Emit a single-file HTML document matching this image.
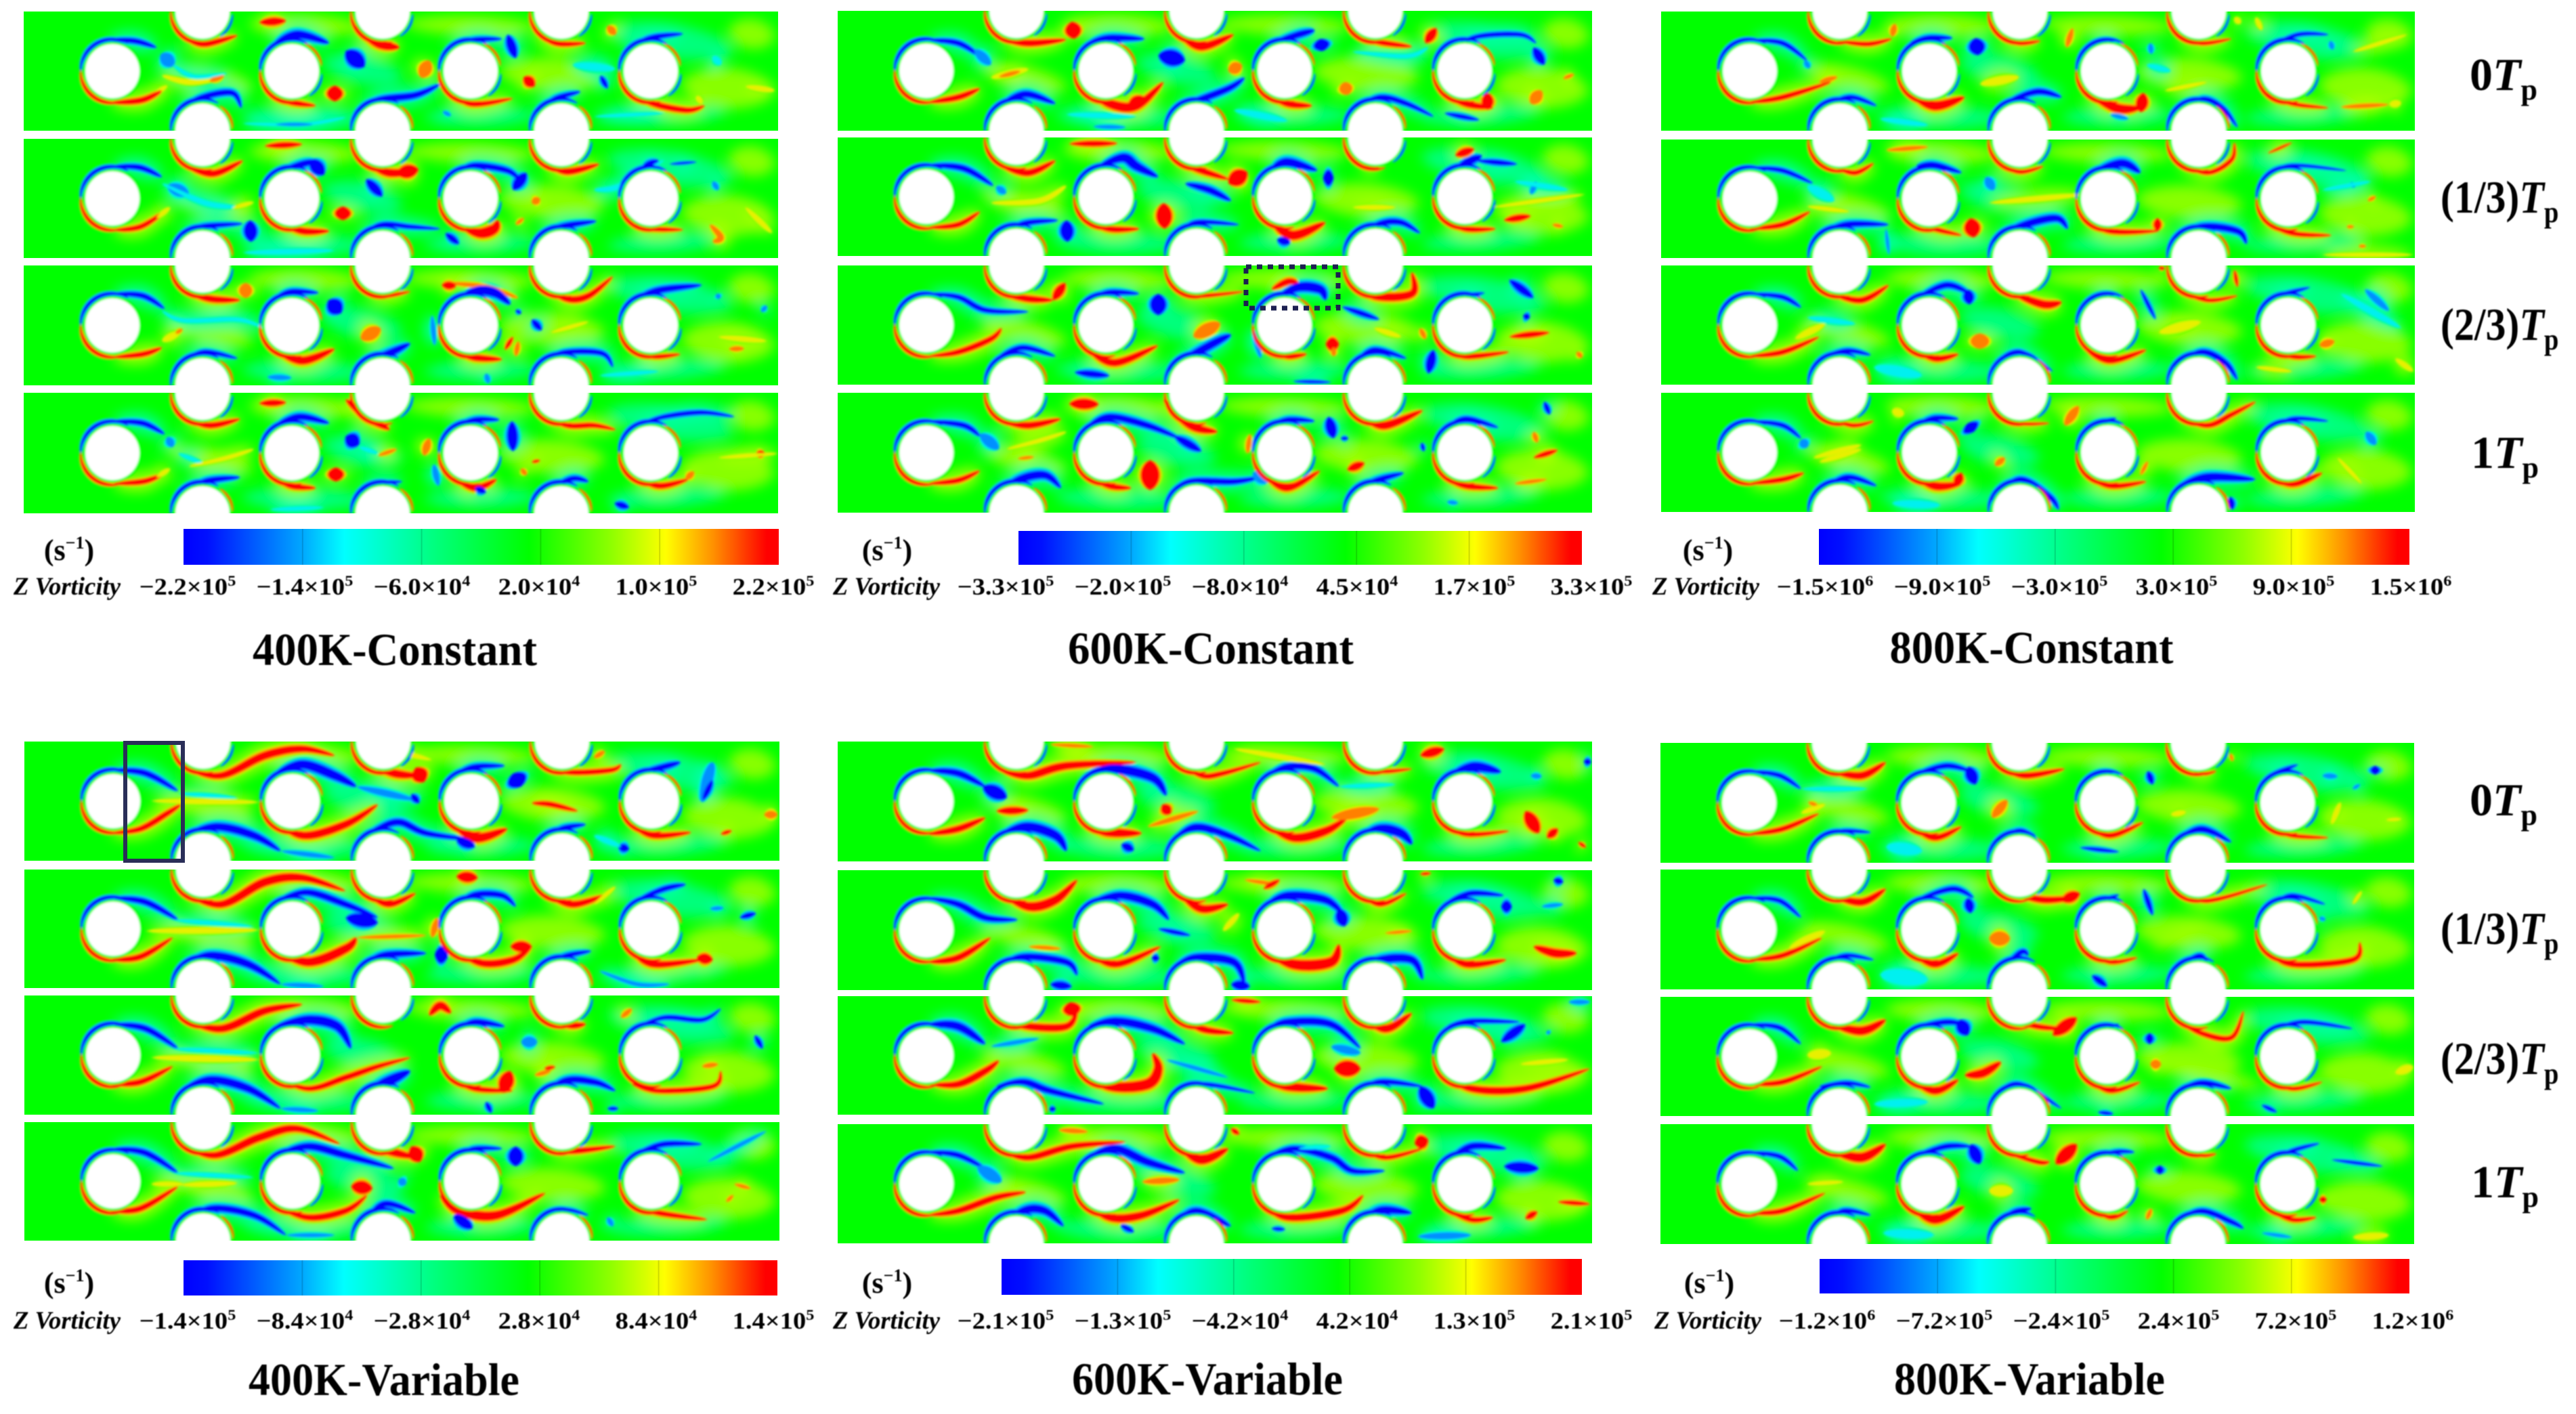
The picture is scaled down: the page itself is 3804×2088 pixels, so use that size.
<!DOCTYPE html>
<html lang="en"><head><meta charset="utf-8"><title>Z vorticity contours, constant vs variable properties</title>
<style>
html,body{margin:0;padding:0;background:#fff;}
#figure{display:block;width:3804px;height:2088px;background:#fff;}
text{font-family:"Liberation Serif",serif;fill:#000;font-weight:bold;}
</style></head>
<body>
<svg id="figure" xmlns="http://www.w3.org/2000/svg" width="3804" height="2088" viewBox="0 0 3804 2088">
<defs>
<filter id="soft" x="-5%" y="-10%" width="110%" height="120%"><feGaussianBlur stdDeviation="1.7"/></filter>
<filter id="softWide" x="-5%" y="-20%" width="110%" height="140%"><feGaussianBlur stdDeviation="9"/></filter>
<filter id="softText" x="-5%" y="-10%" width="110%" height="120%"><feGaussianBlur stdDeviation="0.8"/></filter>
<linearGradient id="jet" x1="0" x2="1" y1="0" y2="0">
<stop offset="0" stop-color="#0000ff"/><stop offset="0.04" stop-color="#0010ff"/><stop offset="0.2" stop-color="#00a8ff"/><stop offset="0.27" stop-color="#00ffff"/><stop offset="0.4" stop-color="#00ff90"/><stop offset="0.58" stop-color="#00ff00"/><stop offset="0.72" stop-color="#90ff00"/><stop offset="0.81" stop-color="#ffff00"/><stop offset="0.89" stop-color="#ff9000"/><stop offset="0.98" stop-color="#ff0000"/><stop offset="1" stop-color="#ff0000"/>
</linearGradient>
</defs>
<g id="panels"></g>
<g id="bars"></g>
<g filter="url(#softText)">
<g font-size="68" text-anchor="middle">
<text x="583" y="982" textLength="420" lengthAdjust="spacingAndGlyphs">400K-Constant</text>
<text x="1788" y="980" textLength="422" lengthAdjust="spacingAndGlyphs">600K-Constant</text>
<text x="3000" y="979" textLength="419" lengthAdjust="spacingAndGlyphs">800K-Constant</text>
<text x="567" y="2060" textLength="400" lengthAdjust="spacingAndGlyphs">400K-Variable</text>
<text x="1783" y="2059" textLength="400" lengthAdjust="spacingAndGlyphs">600K-Variable</text>
<text x="2997" y="2059" textLength="400" lengthAdjust="spacingAndGlyphs">800K-Variable</text>
</g>
<g font-size="68">
<text x="3647" y="133">0<tspan font-style="italic">T</tspan><tspan font-size="44" dy="14">p</tspan></text>
<text transform="translate(3604 314) scale(.88 1)">(1/3)<tspan font-style="italic">T</tspan><tspan font-size="44" dy="14">p</tspan></text>
<text transform="translate(3604 502) scale(.88 1)">(2/3)<tspan font-style="italic">T</tspan><tspan font-size="44" dy="14">p</tspan></text>
<text x="3649" y="691">1<tspan font-style="italic">T</tspan><tspan font-size="44" dy="14">p</tspan></text>
<text x="3647" y="1204">0<tspan font-style="italic">T</tspan><tspan font-size="44" dy="14">p</tspan></text>
<text transform="translate(3604 1394) scale(.88 1)">(1/3)<tspan font-style="italic">T</tspan><tspan font-size="44" dy="14">p</tspan></text>
<text transform="translate(3604 1586) scale(.88 1)">(2/3)<tspan font-style="italic">T</tspan><tspan font-size="44" dy="14">p</tspan></text>
<text x="3649" y="1768">1<tspan font-style="italic">T</tspan><tspan font-size="44" dy="14">p</tspan></text>
</g>
<g id="barText"></g>
</g>
<rect x="185" y="1097" width="85" height="174" fill="none" stroke="#2a2e58" stroke-width="6"/>
<rect x="1840" y="394" width="136" height="61" fill="none" stroke="#1c2050" stroke-width="7" stroke-dasharray="8 8"/>
</svg>
<script>
/* Colour-bar tick labels, one array per case */
const ticks400c=['−2.2×10^5','−1.4×10^5','−6.0×10^4','2.0×10^4','1.0×10^5','2.2×10^5'];
const ticks600c=['−3.3×10^5','−2.0×10^5','−8.0×10^4','4.5×10^4','1.7×10^5','3.3×10^5'];
const ticks800c=['−1.5×10^6','−9.0×10^5','−3.0×10^5','3.0×10^5','9.0×10^5','1.5×10^6'];
const ticks400v=['−1.4×10^5','−8.4×10^4','−2.8×10^4','2.8×10^4','8.4×10^4','1.4×10^5'];
const ticks600v=['−2.1×10^5','−1.3×10^5','−4.2×10^4','4.2×10^4','1.3×10^5','2.1×10^5'];
const ticks800v=['−1.2×10^6','−7.2×10^5','−2.4×10^5','2.4×10^5','7.2×10^5','1.2×10^6'];

/* Vorticity structures: [ink, width, x,y, x,y, ...] in each case's flow axis units */
const c400t0=[['y',8,300,175,350,190,410,182],['o',9,388,188,415,175],['y',7,282,222,310,198],['b',8,200,92,250,95,290,110],['a',20,298,125,322,152],['c',6,320,150,360,178,420,170],['r',9,205,238,262,232,300,210],['r',9,345,90,380,102,440,82],['r',12,480,52,530,48],['b',9,335,250,375,225,430,215,447,250],['b',12,505,105,550,80,610,100],['b',24,640,118,675,155],['r',24,620,198,620,235],['r',9,500,190,530,232,585,245],['r',14,660,60,700,100,740,110],['o',20,780,180,795,140],['b',10,665,260,700,232,770,220,815,195],['b',8,830,130,870,95,930,90],['b',14,940,80,955,135],['r',8,830,195,870,240,950,228],['r',16,970,178,990,200],['r',8,990,70,1030,100,1085,100],['o',12,1125,60,1140,80],['b',8,995,260,1030,228,1075,212],['b',8,1112,175,1125,205],['b',8,1160,130,1200,90,1265,78],['r',9,1160,190,1200,235,1270,255,1305,245],['c',10,1320,130,1335,150],['c',12,1060,150,1140,160],['c',5,1100,270,1230,262],['c',5,450,286,560,288,640,272],['a',5,510,288,580,288],['a',6,820,258,835,268],['y',8,1380,200,1435,210],['y',8,1290,222,1300,240]];
const c400t1=[['b',8,210,385,260,388,300,410],['a',18,310,430,350,450],['c',8,300,425,380,470,440,480],['r',8,210,533,260,525,305,490],['y',7,290,505,315,480],['y',6,430,482,470,468],['r',10,345,385,395,402,450,372],['r',9,490,338,560,334],['b',8,340,545,375,525,450,518],['b',20,463,510,465,560],['b',10,520,395,560,380,585,372],['b',20,575,370,600,405],['b',14,678,415,708,455],['r',24,635,478,635,510],['r',10,520,515,560,535,610,535],['r',12,680,375,720,400,775,395],['r',20,735,402,775,392],['b',7,665,550,705,520,760,525,815,530],['b',10,825,540,850,565],['b',9,850,395,880,383,940,395,965,420],['b',16,975,400,950,440],['r',16,860,530,890,540,915,530,922,510],['o',12,985,470,1000,460],['o',6,955,520,970,505],['r',10,1010,375,1050,397,1110,380],['b',9,1000,550,1040,525,1105,512],['b',10,1190,385,1220,372],['b',4,1240,380,1290,375],['r',7,1170,520,1210,530,1265,532],['o',10,1315,520,1335,550,1320,560],['a',8,1320,420,1330,440],['c',8,1100,440,1150,430,1230,370],['c',8,450,585,620,580],['y',8,1380,480,1430,540]];
const c400t2=[['b',8,210,680,265,685,305,715],['c',6,300,720,340,742,440,740,490,760],['r',8,210,827,265,820,300,805],['y',10,300,790,335,768],['o',6,325,772,338,762],['r',10,345,675,390,692,445,695],['o',20,455,690,455,655],['b',7,340,835,380,815,440,830],['a',8,495,873,540,875],['b',8,510,690,540,675,590,678],['b',24,608,695,632,725],['r',12,510,810,560,835,620,808],['o',20,668,785,705,760],['b',12,670,850,710,825,760,795],['a',7,800,730,805,800],['r',6,680,670,710,685,760,675],['o',8,830,655,900,665,960,690],['r',12,818,660,845,662],['b',14,860,680,890,672,920,680,945,705],['b',10,985,740,1003,765],['b',6,955,718,965,726],['r',10,850,815,880,828,930,832],['r',7,935,810,950,780],['o',8,955,825,960,790],['y',6,1020,770,1090,745],['r',10,1010,665,1050,692,1090,685,1135,640],['b',8,1010,830,1050,815,1115,818,1135,850],['b',10,1175,695,1220,672,1300,660],['r',7,1175,805,1210,825,1260,820],['o',8,1350,808,1378,807],['y',8,1330,780,1420,790],['a',8,1328,680,1332,692],['a',7,1410,722,1420,708],['c',6,1110,870,1220,860],['a',8,900,865,905,888]];
const c400t3=[['b',8,210,975,265,980,305,1005],['a',12,310,1012,320,1035],['c',6,330,1050,380,1075],['r',8,210,1120,265,1115,300,1100],['y',7,290,1105,315,1085],['y',6,350,1080,420,1060,470,1040],['r',9,345,970,390,985,445,970],['r',10,480,934,530,932],['b',9,340,1150,380,1115,445,1105],['b',10,510,985,555,965,610,980],['b',22,640,1010,665,1030],['c',6,665,1035,700,1050],['r',24,622,1082,622,1115],['r',9,510,1105,540,1125,585,1130],['r',12,640,925,680,965,722,995],['o',6,700,1055,735,1040],['b',6,670,1140,700,1120,745,1115],['o',12,785,1055,795,1015],['a',9,803,1075,812,1125],['b',8,840,990,880,972,925,972],['b',16,948,975,950,1045],['r',10,840,1105,880,1130,920,1110],['b',10,880,1130,900,1140],['r',5,985,1070,1000,1066],['o',8,965,1085,975,1100],['r',8,1005,960,1050,985,1100,985,1140,995],['b',8,1020,1130,1060,1108,1090,1115],['b',7,1180,985,1230,965,1300,955,1360,965],['r',9,1175,1100,1220,1125,1275,1110],['o',10,1270,1110,1285,1092],['r',10,1400,1054,1416,1048],['b',10,1138,1165,1165,1175],['c',6,500,1180,600,1175],['y',6,1330,1060,1440,1050]];

const c600t0=[['b',8,215,92,270,100,310,130],['a',14,300,115,330,150],['y',10,330,180,400,160],['o',7,345,178,385,165],['r',9,215,237,270,225,310,205],['r',10,350,90,400,100,470,92],['r',24,480,50,485,90],['b',10,350,240,395,218,450,240],['c',8,470,265,600,270],['a',6,520,293,580,295],['b',10,510,100,550,88,615,90],['b',24,640,128,690,140],['r',14,510,205,550,240,600,245,650,190],['r',20,585,250,615,225],['r',12,680,80,720,108,780,80],['o',18,770,165,795,150],['b',10,670,265,700,240,770,205,800,180],['b',10,850,100,900,80,930,70],['b',24,940,90,945,118],['r',10,840,215,880,240,925,245],['o',20,985,190,990,220],['r',8,1020,90,1060,100,1110,108],['r',14,1135,100,1155,65],['b',8,1005,250,1050,225,1100,240,1150,270],['b',7,1170,262,1235,278],['b',7,1180,115,1230,85,1310,80,1340,100],['b',14,1335,110,1355,150],['r',10,1170,215,1210,240,1260,250],['r',18,1250,215,1250,255],['o',18,1330,240,1350,210],['o',6,1390,182,1410,172],['c',6,1000,120,1100,130,1140,110],['c',10,780,255,880,280]];
const c600t1=[['b',9,215,382,280,390,335,430],['a',10,340,432,358,448],['y',8,330,470,420,465,470,430],['r',8,215,527,270,520,310,490],['r',10,350,385,400,400,450,372],['r',9,475,333,565,332],['b',8,345,550,390,518,455,510],['b',20,470,510,472,560],['b',14,530,385,575,365,600,385,640,410],['b',10,690,425,735,440,775,465],['r',24,650,470,652,530],['r',9,510,510,550,530,605,530],['r',10,670,360,710,390,770,415],['r',24,770,425,805,398],['b',7,680,545,710,515,790,520],['b',12,850,390,880,375,935,395],['b',24,945,412,965,412],['r',14,850,515,890,545,950,515],['b',12,860,555,885,562],['y',7,1000,480,1080,480],['r',6,1015,375,1050,390],['b',9,1005,550,1050,518,1090,515,1125,540],['b',12,1195,385,1240,360],['b',8,1230,372,1305,380],['r',12,1190,360,1225,345],['r',8,1170,510,1210,530,1265,530],['r',10,1280,510,1330,500],['a',8,1340,420,1330,450],['y',6,1260,480,1430,450],['c',8,1300,420,1400,440],['o',6,1370,520,1390,525]];
const c600t2=[['b',8,215,680,270,688,320,718,400,722],['r',9,215,825,270,815,330,785,350,760],['r',10,350,680,400,692,445,695],['r',14,445,695,468,655],['b',8,345,825,390,805,450,825],['b',10,485,862,550,870],['b',8,510,695,550,677,605,680],['b',24,640,680,640,730],['r',11,510,810,560,840,640,800],['o',20,705,780,755,748],['b',12,660,860,700,825,750,790,775,775],['r',6,680,665,710,685,800,675],['r',10,850,670,880,652,900,655],['b',14,860,690,900,665,940,670,950,695],['b',8,980,710,1050,740],['r',8,850,810,880,825,915,820],['a',8,815,760,830,830],['r',20,950,797,975,797],['o',8,965,805,965,825],['r',12,1010,650,1040,685,1110,680,1110,630],['b',14,1150,810,1140,865],['b',8,1005,840,1040,810,1100,830],['b',6,1180,690,1245,678],['b',12,1290,648,1335,690],['b',10,1316,730,1328,736],['o',8,1125,760,1135,785],['r',8,1175,805,1210,825,1290,815],['r',9,1290,780,1365,770],['o',8,1415,815,1425,828],['b',5,890,883,960,885],['y',8,1040,760,1090,780]];
const c600t3=[['b',8,215,975,280,985,310,1010],['a',16,310,1005,345,1040],['y',6,360,1040,420,1020,470,1000],['r',8,215,1120,270,1112,310,1090],['o',5,380,1062,410,1058],['r',10,350,975,400,985,460,970],['r',16,475,935,530,936],['b',12,340,1150,380,1112,430,1100,460,1130],['b',10,510,985,550,965,620,985,680,1015],['b',12,670,1010,720,1045],['r',28,625,1065,625,1135],['r',9,510,1100,550,1125,590,1130],['r',12,650,925,700,985,750,1000],['b',9,665,1140,700,1115,780,1115,830,1105],['a',18,815,1095,845,1115],['b',8,840,990,880,972,930,975],['b',16,955,965,965,1015],['b',6,978,1015,992,1015],['o',8,805,1050,810,1005],['r',10,840,1105,880,1130,940,1090],['r',12,990,1088,1022,1072],['r',12,1020,965,1060,985,1130,950],['b',9,1000,1150,1040,1115,1095,1095],['b',8,1175,990,1210,970,1270,990],['r',9,1170,1105,1210,1125,1270,1130],['o',6,1300,1120,1360,1110],['r',8,1335,1060,1380,1042],['b',8,1355,930,1365,960],['o',8,1335,1000,1342,1025],['b',6,1128,1025,1132,1045],['a',6,1175,1162,1195,1165]];

const c800t0=[['b',7,210,93,260,100,300,140],['a',8,296,140,304,158],['o',8,320,190,350,178],['r',8,205,237,260,225,340,190],['r',7,350,95,400,102,440,90],['o',10,440,85,445,55],['b',7,325,250,370,225,415,245],['c',8,420,275,500,290],['b',8,470,100,500,88,540,88],['b',24,578,88,582,128],['r',14,470,215,510,245,560,225],['y',12,585,195,650,178],['r',6,620,85,650,100,685,95],['o',9,728,110,738,65],['b',9,630,235,680,212,720,225],['b',6,770,105,810,92],['a',8,866,100,868,125],['r',14,760,210,810,250,850,250],['r',18,850,260,855,215],['a',7,800,265,830,275],['y',6,890,210,960,190],['r',6,910,80,950,100,1000,90],['y',8,1005,40,1015,55],['y',7,1040,40,1050,70],['b',8,910,270,950,230,985,250,1010,295],['b',6,1060,110,1110,80,1160,80],['a',8,1163,95,1167,115],['r',6,1060,215,1100,240,1160,250],['o',7,1180,248,1260,242],['y',10,1260,242,1280,238],['y',6,1200,120,1290,80],['c',8,860,150,900,165]];
const c800t1=[['b',7,210,388,260,395,310,425],['c',14,300,430,345,465],['y',6,300,478,370,490],['r',8,205,530,260,520,305,490],['r',7,350,390,380,400,410,378],['o',7,430,348,500,340],['b',9,320,545,365,520,435,520],['a',5,430,530,435,590],['b',9,480,385,510,382,555,400],['a',14,595,410,608,440],['r',7,470,510,510,530,555,545],['r',24,570,505,575,550],['r',6,610,375,650,398,690,385],['b',11,610,560,650,525,710,505,730,530],['b',12,775,395,820,378,850,400],['r',8,760,505,800,535,880,535],['r',12,878,505,878,535],['b',10,900,555,950,525,1010,535,1025,565],['r',7,910,375,960,400,1000,370,1005,330],['r',4,1060,355,1100,330],['b',5,1060,405,1100,383,1190,395],['r',7,1050,510,1100,540,1165,545],['a',6,1197,422,1203,434],['o',6,1225,465,1238,455],['o',5,1190,525,1202,525],['y',6,1150,590,1300,590],['o',5,1210,570,1222,570],['c',6,1150,440,1230,420],['y',8,600,470,760,450]];
const c800t2=[['b',7,210,680,260,688,290,712],['c',8,300,735,380,750],['y',10,280,785,330,750],['r',8,205,825,260,815,320,780],['r',9,340,680,390,695,435,660],['b',7,320,830,365,812,405,822],['c',16,410,850,490,870],['b',9,480,690,530,660,570,680],['b',16,565,670,568,705],['r',9,470,800,510,830,550,820],['o',28,585,772,585,808],['r',12,640,680,690,705,720,700],['b',7,610,840,650,815,705,860],['b',6,770,695,810,680],['b',6,850,670,875,740],['r',9,760,810,800,835,860,810],['y',14,880,770,950,745],['r',6,910,670,960,695,1010,685],['r',6,880,620,890,622],['r',6,1005,625,1010,665],['b',9,905,850,950,815,990,840,1010,880],['b',6,1060,690,1130,665],['a',10,1220,670,1260,720],['r',7,1055,800,1100,825,1140,825],['o',12,1145,800,1170,790],['y',6,1040,850,1100,860],['y',8,1270,830,1300,860],['c',10,1180,680,1280,760]];
const c800t3=[['b',7,210,975,260,985,290,1015],['a',14,290,1018,300,1036],['y',8,310,1060,390,1030],['r',8,205,1120,260,1110,295,1095],['r',6,330,965,375,985,410,975],['y',12,440,950,460,960],['b',8,320,1140,365,1105,415,1125],['b',8,480,985,510,968,550,970],['b',26,565,980,575,1000],['r',12,470,1090,510,1125,555,1120],['r',14,545,1125,555,1095],['r',5,615,955,650,980,700,980],['o',14,725,985,748,940],['b',9,605,1160,650,1110,700,1150,715,1180],['o',10,610,1078,626,1060],['b',6,770,985,810,968],['r',8,755,1095,800,1125,860,1115],['o',6,850,1100,862,1068],['r',8,910,965,960,985,1000,960,1040,930],['b',12,910,1130,960,1105,1040,1110],['b',10,998,1150,1002,1180],['b',6,1060,1000,1100,970,1160,975],['a',12,1222,1000,1238,1030],['r',10,1055,1095,1100,1120,1150,1095],['y',6,1175,1060,1215,1120],['c',12,440,1165,520,1170],['y',8,320,1070,390,1040]];

const v400t0=[['b',9,210,117,270,125,330,165],['c',6,330,170,440,180],['y',8,280,187,480,190],['r',9,205,260,260,250,310,215,335,195],['r',12,345,115,410,130,490,85,560,70,620,85],['b',12,340,265,400,245,470,265,520,300],['a',7,520,300,620,315],['b',14,510,125,560,105,620,130,660,155],['a',10,660,155,770,185],['b',10,762,172,776,192],['r',12,505,225,560,265,640,240,700,195],['r',12,680,100,730,125,775,130],['r',24,770,112,785,145],['b',10,670,275,700,250,740,235,790,260,880,275],['b',8,845,125,880,110,935,108],['b',30,950,125,965,155],['r',14,835,230,880,270,940,250],['r',8,985,192,1020,195,1070,210],['b',14,845,275,880,290],['b',8,1005,280,1040,250,1085,240],['b',12,1145,290,1165,296],['r',8,1010,100,1050,122,1130,118,1150,105],['o',8,1100,90,1120,75],['b',9,1180,125,1230,110,1260,100],['a',16,1300,190,1310,140,1320,100],['b',9,1302,185,1320,140],['r',9,1170,240,1210,265,1280,258],['r',6,1335,262,1355,254],['o',12,1415,218,1440,218],['c',8,1100,265,1150,290],['y',8,700,65,800,95]];
const v400t1=[['b',9,210,405,270,415,330,455],['y',9,270,480,480,478],['c',6,320,455,470,470],['r',9,205,545,260,538,320,495],['r',13,340,395,410,420,490,370,560,360,640,390],['b',12,340,555,390,535,460,555,520,600],['a',7,520,600,600,605],['b',10,515,410,570,393,640,420,700,450],['b',20,640,450,700,462],['r',14,505,520,570,550,640,520,660,495],['o',6,660,495,790,490],['r',9,680,395,720,420,770,395],['r',16,845,357,885,360],['b',10,670,565,710,535,790,530],['b',26,805,533,830,535],['b',9,845,420,880,398,930,400,955,425],['o',10,800,495,810,450],['r',11,835,515,890,552,950,545,985,515],['r',16,945,515,985,515],['b',8,1000,580,1040,540,1095,525],['r',10,1010,395,1060,420,1120,400],['b',8,1180,410,1230,385,1270,375],['b',8,1370,450,1400,440],['a',6,1315,430,1340,428],['r',10,1170,525,1210,555,1300,545],['r',16,1290,540,1320,545],['a',6,1110,570,1180,600,1240,600],['y',6,1100,420,1140,380]];
const v400t2=[['b',9,210,690,270,700,330,745],['y',9,280,765,480,770],['c',6,320,745,480,755],['r',9,205,825,260,820,320,785],['r',12,340,680,410,700,490,660,560,645],['b',12,340,835,390,815,460,835,520,880],['a',7,520,880,590,885],['b',14,510,695,570,680,625,695,650,745],['r',9,505,805,570,835,640,810,700,785,760,765],['b',16,670,860,710,825,760,795],['r',12,795,670,815,648,835,665],['b',9,845,705,880,685,935,695],['a',16,965,730,995,730],['r',8,835,810,880,835,950,840],['r',22,930,845,945,795],['o',7,990,805,1020,795],['r',6,1008,790,1028,786],['r',10,1000,650,1050,690,1085,690],['b',10,990,885,1040,820,1100,820,1140,840],['o',8,1150,675,1170,655],['b',7,1175,700,1230,675,1300,680,1335,655],['b',8,1398,715,1412,745],['r',8,1170,825,1220,840,1320,830,1335,795],['o',8,1300,785,1330,780],['b',6,1125,880,1145,880],['b',8,900,865,910,890]];
const v400t3=[['b',9,210,970,270,980,330,1025],['y',7,280,1050,340,1050],['c',6,320,1025,470,1035],['r',9,205,1110,260,1105,330,1055],['y',8,335,1052,440,1048],['r',12,340,965,400,985,480,945,550,925,630,960],['b',10,340,1140,390,1105,470,1120,530,1165],['a',6,530,1165,620,1165],['b',11,510,985,570,965,640,985,730,1015],['a',12,738,1040,752,1050],['r',10,505,1095,570,1125,640,1110,680,1075],['r',20,650,1055,690,1060],['r',12,680,950,720,975,770,990],['r',22,762,965,778,1000],['b',9,670,1150,710,1095,770,1115],['b',7,850,985,880,970,930,970],['b',22,955,965,955,1010],['r',14,815,1075,850,1110,920,1120,1010,1070],['b',16,840,1120,875,1150],['r',9,1010,950,1050,975,1140,965],['b',6,1005,1165,1040,1110,1090,1120],['a',8,1125,1125,1135,1145],['b',8,1180,980,1230,960,1300,960],['a',6,1310,1000,1420,930],['r',8,1170,1095,1220,1115,1310,1130],['o',6,1345,1090,1358,1075],['o',6,1360,1050,1390,1060]];

const v600t0=[['b',10,215,118,270,125,320,155],['b',20,315,155,360,180],['r',10,215,262,270,250,320,225],['r',11,340,210,400,208],['r',12,350,120,400,130,470,108,600,100],['b',14,345,265,395,245,450,265,470,300],['b',12,572,285,595,298],['b',14,510,125,560,115,630,135,655,175],['r',14,505,220,540,255,610,260],['r',16,648,195,662,218],['o',8,620,245,715,210],['r',8,680,100,720,130,760,125,830,100],['b',10,670,270,710,245,770,265,830,300],['b',10,840,130,880,110,930,115,975,155],['c',6,975,155,1080,150],['r',13,840,240,890,270,950,255,990,225],['o',16,960,225,1050,205],['b',14,1010,270,1050,250,1090,260,1110,285],['r',6,1010,100,1050,120,1110,115],['r',14,1125,85,1170,70],['b',14,1180,130,1225,110,1275,122],['r',7,1170,235,1210,262,1290,255],['r',20,1320,210,1345,260],['r',12,1360,270,1380,250],['a',8,1330,130,1350,132],['b',10,1428,98,1442,100],['r',6,1418,280,1432,292],['y',8,780,70,950,105],['o',6,440,60,520,65]];
const v600t1=[['b',10,215,405,270,420,320,450,380,455],['r',10,215,550,270,540,330,495],['o',6,400,515,460,520],['r',14,350,395,400,425,450,410,490,365],['b',10,345,560,390,538,470,550,490,580],['b',12,440,600,480,605],['b',12,515,415,570,400,630,420,660,455],['b',7,640,475,700,490],['r',10,505,520,560,555,645,515],['b',10,628,540,642,542],['r',12,680,395,720,430,770,420],['o',6,800,365,860,375],['r',8,835,385,865,365],['b',12,670,560,710,540,780,550,800,600],['b',14,775,600,810,605],['b',12,840,420,880,400,950,410,985,445],['b',18,975,430,985,470],['r',16,835,520,890,555,960,550,975,510],['o',5,1060,485,1110,480],['r',7,1010,390,1050,420,1100,395],['b',12,1005,570,1050,545,1110,545,1130,590],['r',5,1125,352,1145,350],['b',8,1175,415,1220,395,1280,400],['b',18,1275,425,1295,425],['r',10,1170,520,1210,555,1285,545],['r',13,1335,515,1375,530,1415,530],['b',10,1372,365,1390,370],['a',6,1350,425,1390,420],['y',8,760,480,790,440]];
const v600t2=[['b',12,215,690,270,695,320,735],['a',6,330,740,420,722],['r',11,215,825,270,825,320,795,345,772],['r',11,350,680,400,695,470,695,490,660],['r',26,478,640,482,672],['b',10,340,830,390,820,440,840,540,870],['b',8,438,882,450,880],['b',12,510,695,560,683,630,700,690,735],['r',16,505,800,550,830,620,825,640,790,630,755],['a',6,655,770,770,810],['r',10,680,665,720,700,780,710],['r',7,775,635,830,640],['b',6,670,850,720,825,820,845],['b',11,845,700,880,685,960,690,1015,745],['a',12,960,740,1015,755],['r',24,965,790,1015,790],['r',13,835,810,880,830,955,835],['r',12,1010,660,1060,700,1110,665],['b',8,1005,850,1050,820,1130,830],['b',20,1125,830,1150,880],['b',7,1175,695,1220,683,1310,685],['b',14,1275,730,1320,690],['r',11,1170,800,1220,835,1320,835,1440,790],['a',7,1400,640,1440,640],['y',7,1310,780,1400,770],['a',6,1360,705,1365,712]];
const v600t3=[['b',8,215,977,270,985,320,1015],['a',18,305,1010,350,1045],['r',10,215,1120,270,1110,340,1080,395,1068],['r',10,350,975,400,990,480,965,580,955],['o',8,455,928,510,932],['b',12,345,1150,390,1110,430,1110,465,1145],['b',8,570,1142,595,1158],['b',12,510,990,560,970,620,1000,690,1025],['o',10,610,1045,680,1040],['r',12,505,1090,550,1125,610,1120,680,1085],['r',14,680,965,720,995,770,970],['b',12,670,1145,710,1112,775,1145],['r',8,775,925,790,938],['b',10,840,990,890,970,960,990,1000,1020,1060,1020],['c',6,900,970,960,965],['r',11,835,1095,880,1125,980,1110,1020,1075],['r',7,1010,965,1060,990,1130,970],['r',20,1115,960,1140,950],['b',12,1005,1150,1050,1110,1110,1115],['a',10,1120,1168,1220,1165],['b',10,1175,1000,1220,965,1285,970],['b',16,1280,1010,1345,1015],['r',8,1170,1105,1220,1130,1260,1125],['r',10,1320,1128,1342,1112],['r',7,1380,1090,1440,1095],['b',6,850,1150,875,1152]];

const v800t0=[['b',7,208,120,255,130,290,160],['c',6,290,160,400,160],['r',8,205,262,260,250,320,215],['o',6,302,190,318,198],['y',8,290,215,330,195],['r',11,340,120,390,130,430,100],['b',6,330,270,360,255,405,258],['c',18,430,290,490,300],['b',8,480,125,530,108,570,120],['b',18,565,110,578,150],['r',9,470,240,510,270,555,245],['o',14,605,225,630,185],['r',9,620,110,660,130,725,115],['b',8,610,280,650,255,680,275],['b',6,750,292,815,302],['b',6,770,130,810,120],['b',10,862,120,870,150],['r',8,760,240,800,265,855,235],['y',8,900,218,925,212],['r',5,915,100,950,125,975,120],['o',5,998,80,1002,98],['b',9,905,280,950,250,1000,280],['b',6,1060,130,1110,105],['b',14,1237,108,1237,128],['a',8,1150,130,1175,132],['r',6,1060,245,1100,265,1160,270],['y',8,1165,240,1180,190],['y',5,1255,230,1280,228],['a',5,1200,160,1212,150]];
const v800t1=[['b',7,208,405,255,412,290,450],['y',12,270,520,330,480],['r',8,205,545,260,535,325,495],['r',11,340,400,390,415,430,385],['b',6,330,550,365,535,410,545],['a',12,435,580,485,585],['c',24,420,578,500,590],['b',8,480,410,540,385,575,405],['b',14,565,405,570,440],['r',10,470,525,510,555,550,530],['o',22,600,497,635,497],['r',10,640,395,690,410,745,405],['r',16,720,412,750,395],['b',8,600,600,650,530,665,535],['b',10,770,580,795,605],['b',6,770,420,815,398],['b',8,855,385,870,445],['r',6,760,525,800,550,845,540],['l',20,870,520,960,460],['r',6,915,385,960,412,1060,375],['b',6,900,570,945,535,960,550],['b',6,1070,420,1100,400,1155,420],['r',9,1060,525,1100,555,1200,545,1212,505],['y',5,1200,420,1215,390],['a',6,1145,450,1155,455]];
const v800t2=[['b',7,208,690,255,698,290,735],['y',14,300,760,340,755],['r',8,205,825,260,820,325,785],['r',13,340,690,390,705,430,680],['b',6,320,830,365,822,405,832],['c',12,410,870,500,865],['b',8,480,695,530,685,560,690],['b',20,550,680,565,715],['r',11,470,810,510,840,550,815],['r',13,560,805,590,800,620,775],['r',8,620,675,680,695,720,700],['r',18,705,715,745,675],['b',7,610,850,650,825,720,880],['b',6,780,888,805,892],['b',6,770,705,815,690],['b',12,865,710,865,735],['o',14,866,780,884,780],['r',7,760,810,800,840,850,820],['r',8,910,680,950,710,1000,720,1020,660],['b',8,905,845,950,822,1000,835],['b',6,1050,872,1075,888],['b',6,1070,700,1120,685,1200,700],['r',6,1060,810,1100,835,1150,820],['y',12,1270,800,1300,785],['l',24,880,780,1050,830]];
const v800t3=[['b',7,208,978,255,988,285,1020],['y',6,300,1050,360,1045],['r',8,205,1115,260,1110,330,1070],['r',14,340,975,390,990,430,960],['b',7,330,1140,360,1110,405,1120],['c',14,425,1160,510,1165],['b',8,480,985,530,965,570,965],['b',18,570,960,585,1005],['r',13,470,1095,510,1130,560,1100],['y',16,600,1065,640,1065],['r',7,620,975,680,1000,700,1000],['r',20,710,1005,745,960],['b',9,610,1150,640,1115,670,1105],['b',6,770,990,810,977,840,978],['b',12,882,1008,882,1028],['r',6,760,1095,800,1125,830,1110],['o',7,860,1130,868,1105],['r',5,915,965,950,985,975,982],['b',8,905,1135,950,1110,1000,1135,1020,1150],['a',5,1050,1160,1100,1170],['b',6,1065,1000,1100,975,1145,958],['b',5,1165,995,1250,1010],['r',7,1060,1105,1100,1130,1140,1125],['r',10,1145,1085,1157,1085],['y',10,1200,1170,1260,1165]];

/* Soft background tone present in every channel: [ink, width, along, across, ...] */
const washBands=[['l',34,330,-70,500,-65],['m',34,320,65,510,70],['l',35,210,-5,340,25],['l',30,560,-70,760,-65],['m',30,590,68,760,65],['m',44,440,-15,560,10],['l',50,700,0,860,10],['m',50,860,-60,1050,-30],['l',60,970,20,1110,30],['m',30,860,70,1040,60],['l',44,1040,-60,1110,-50]];

const layout=[
 {id:'400k-constant',ox:0,oy:0,sx:1.254,sy:1.568,left:35,right:1149,rows:[[17,193],[205,381],[392,569],[580,758]],bar:[271,1150,781,834],tickStart:277,tickY:878,zx:20,unitX:102,unitY:827,ticks:ticks400c,flow:[c400t0,c400t1,c400t2,c400t3]},
 {id:'600k-constant',ox:1200,oy:0,sx:1.254,sy:1.568,left:1237,right:2351,rows:[[16,193],[203,378],[392,568],[580,757]],bar:[1504,2336,784,834],tickStart:1485,tickY:878,zx:1230,unitX:1310,unitY:827,ticks:ticks600c,flow:[c600t0,c600t1,c600t2,c600t3]},
 {id:'800k-constant',ox:2400,oy:0,sx:1.117,sy:1.568,left:2453,right:3566,rows:[[17,193],[206,381],[392,568],[580,756]],bar:[2686,3558,781,834],tickStart:2695,tickY:878,zx:2440,unitX:2522,unitY:827,ticks:ticks800c,flow:[c800t0,c800t1,c800t2,c800t3]},
 {id:'400k-variable',ox:0,oy:1060,sx:1.254,sy:1.525,left:36,right:1151,rows:[[1095,1271],[1284,1459],[1470,1646],[1657,1832]],bar:[271,1148,1861,1913],tickStart:277,tickY:1962,zx:20,unitX:102,unitY:1909,ticks:ticks400v,flow:[v400t0,v400t1,v400t2,v400t3]},
 {id:'600k-variable',ox:1200,oy:1060,sx:1.254,sy:1.525,left:1237,right:2351,rows:[[1095,1272],[1285,1462],[1471,1646],[1660,1836]],bar:[1479,2336,1859,1912],tickStart:1485,tickY:1962,zx:1230,unitX:1310,unitY:1909,ticks:ticks600v,flow:[v600t0,v600t1,v600t2,v600t3]},
 {id:'800k-variable',ox:2400,oy:1060,sx:1.117,sy:1.525,left:2452,right:3565,rows:[[1097,1274],[1284,1461],[1472,1648],[1660,1837]],bar:[2687,3558,1859,1910],tickStart:2698,tickY:1962,zx:2443,unitX:2524,unitY:1909,ticks:ticks800v,flow:[v800t0,v800t1,v800t2,v800t3]}
];
const inks={
 r:[['#a8f800',9],['#ffb000',4],['#ff0000',0]],
 b:[['#00f0c8',10],['#00a8ff',5],['#0000ff',0]],
 a:[['#00ffb0',8],['#00e0ff',3],['#0090ff',0]],
 o:[['#90ff00',8],['#f8f000',3],['#ff8000',0]],
 y:[['#60ff00',7],['#c8f800',2],['#e8f000',-2]],
 c:[['#00ff88',6],['#00f8c8',2],['#00f0f0',-2]],
 l:[['#70ff10',0],null,null],
 m:[['#00ff60',0],null,null]
};
const glowInk={r:'#b0ff00',o:'#b0ff00',y:'#a0ff00',l:'#a0ff00',b:'#00ffa8',a:'#00ffb0',c:'#00ffb8',m:'#00ff90'};
const NS='http://www.w3.org/2000/svg';
function make(tag,attrs,parent){
 const el=document.createElementNS(NS,tag);
 for(const k in attrs)el.setAttribute(k,attrs[k]);
 parent.appendChild(el);
 return el;
}
function xAxis(c,v){return c.ox+v/c.sx;}
function yAxis(c,v){return c.oy+v/c.sy;}
function smooth(pts){
 const out=[];
 if(pts.length===2){
  for(let i=0;i<=16;i++){const t=i/16;out.push([pts[0][0]+(pts[1][0]-pts[0][0])*t,pts[0][1]+(pts[1][1]-pts[0][1])*t]);}
  return out;
 }
 for(let i=0;i<pts.length-1;i++){
  const p0=pts[Math.max(i-1,0)],p1=pts[i],p2=pts[i+1],p3=pts[Math.min(i+2,pts.length-1)];
  for(let j=0;j<10;j++){
   const t=j/10,t2=t*t,t3=t2*t;
   out.push([0,1].map(a=>0.5*(2*p1[a]+(p2[a]-p0[a])*t+(2*p0[a]-5*p1[a]+4*p2[a]-p3[a])*t2+(3*p1[a]-p0[a]-3*p2[a]+p3[a])*t3)));
  }
 }
 out.push(pts[pts.length-1]);
 return out;
}
function ribbon(pts,width){
 const s=smooth(pts),n=s.length,L=[],R=[];
 for(let i=0;i<n;i++){
  const a=s[Math.max(i-1,0)],b=s[Math.min(i+1,n-1)];
  let dx=b[0]-a[0],dy=b[1]-a[1];const len=Math.hypot(dx,dy)||1;dx/=len;dy/=len;
  const t=i/(n-1),h=width/2*Math.pow(Math.sin(Math.PI*t),0.55);
  L.push((s[i][0]-dy*h).toFixed(1)+' '+(s[i][1]+dx*h).toFixed(1));
  R.unshift((s[i][0]+dy*h).toFixed(1)+' '+(s[i][1]-dx*h).toFixed(1));
 }
 return 'M'+L.concat(R).join('L')+'Z';
}
function arcPts(cx,cy,r,a0,a1){
 const p=[];
 for(let i=0;i<=8;i++){const a=(a0+(a1-a0)*i/8)*Math.PI/180;p.push([cx+r*Math.cos(a),cy+r*Math.sin(a)]);}
 return p;
}
const panelRoot=document.getElementById('panels');
const barRoot=document.getElementById('bars');
const barText=document.getElementById('barText');
const cylinderOffsets=[131,396,660,926];
const halfOffsets=[264,530,794];
layout.forEach(function(c){
 c.rows.forEach(function(row,ri){
  const top=row[0],bottom=row[1],mid=(top+bottom)/2,w=c.right-c.left,h=bottom-top;
  const clipId='clip-'+c.id+'-'+ri;
  const cp=make('clipPath',{id:clipId},panelRoot);
  make('rect',{x:c.left,y:top,width:w,height:h},cp);
  const panel=make('g',{'clip-path':'url(#'+clipId+')'},panelRoot);
  
  
  const bg=make('rect',{x:c.left,y:top,width:w,height:h,fill:'#00ff00'},panel);
  
  
  const glow=make('g',{filter:'url(#softWide)','fill-opacity':0.85},panel);
  const blur=make('g',{filter:'url(#soft)'},panel);
  const flowItems=[],items=[];
  washBands.forEach(function(s){
   const pts=[];
   for(let i=2;i<s.length;i+=2)pts.push([c.left+s[i],mid+s[i+1]]);
   flowItems.push([s[0],s[1],pts]);
  });
  c.flow[ri].forEach(function(s){
   const pts=[];
   for(let i=2;i<s.length;i+=2)pts.push([xAxis(c,s[i]),yAxis(c,s[i+1])]);
   flowItems.push([s[0],s[1],pts]);
   items.push([s[0],s[1],pts]);
  });
  flowItems.forEach(function(it){
   const wide=(it[0]==='l'||it[0]==='m')?it[1]:it[1]+22;
   const p=make('path',{d:ribbon(it[2],wide),fill:glowInk[it[0]]},glow);
   
   
  });
  cylinderOffsets.forEach(function(o,k){
   const cx=c.left+o;
   items.push(['b',6,arcPts(cx,mid,47,178,300)]);
   items.push(['r',6,arcPts(cx,mid,47,182,72)]);
   if(k>0){
    items.push(['r',3,arcPts(cx,mid,45,-65,-10)]);
    items.push(['b',3,arcPts(cx,mid,45,5,55)]);
   }
  });
  halfOffsets.forEach(function(o){
   const cx=c.left+o;
   items.push(['r',6,arcPts(cx,top,47,182,72)]);
   items.push(['b',3,arcPts(cx,top,45,5,55)]);
   items.push(['b',6,arcPts(cx,bottom,47,178,300)]);
   items.push(['r',3,arcPts(cx,bottom,45,-55,-3)]);
  });
  for(let pass=0;pass<3;pass++){
   items.forEach(function(it){
    if(it[0]==='l'||it[0]==='m')return;
    const layer=inks[it[0]][pass];
    if(!layer)return;
    const grow=layer[1]*Math.min(1,it[1]/12);
    const path=make('path',{d:ribbon(it[2],Math.max(1,it[1]+grow)),fill:layer[0]},blur);
    
    
   });
  }
  cylinderOffsets.forEach(function(o){
   const ring=make('circle',{cx:c.left+o,cy:mid,r:43.5,fill:'#00ff00'},blur);
   
   
   const disc=make('circle',{cx:c.left+o,cy:mid,r:40,fill:'#ffffff'},blur);
   
   
  });
  halfOffsets.forEach(function(o){
   [top,bottom].forEach(function(yy){
    const ring=make('circle',{cx:c.left+o,cy:yy,r:43.5,fill:'#00ff00'},blur);
    
    
    const disc=make('circle',{cx:c.left+o,cy:yy,r:40,fill:'#ffffff'},blur);
    
    
   });
  });
 });

 const bar=make('rect',{x:c.bar[0],y:c.bar[2],width:c.bar[1]-c.bar[0],height:c.bar[3]-c.bar[2],fill:'url(#jet)'},barRoot);
 
 
 for(let i=1;i<c.ticks.length-1;i++){
  const tx=c.bar[0]+(c.bar[1]-c.bar[0])*i/(c.ticks.length-1);
  const line=make('line',{x1:tx,x2:tx,y1:c.bar[2],y2:c.bar[3],stroke:'#000','stroke-opacity':0.15,'stroke-width':2},barRoot);
  
  
 }
 c.ticks.forEach(function(label,i){
  const parts=label.split('^');
  const t=make('text',{transform:'translate('+(c.tickStart+173*i)+' '+c.tickY+') scale(1.1 1)','font-size':35,'text-anchor':'middle'},barText);
  
  
  t.appendChild(document.createTextNode(parts[0]));
  const sup=make('tspan',{'font-size':22,dy:-13},t);
  sup.textContent=parts[1];
 });
 const z=make('text',{x:c.zx,y:c.tickY,'font-size':37,'font-style':'italic',textLength:158,lengthAdjust:'spacingAndGlyphs'},barText);
 
 
 z.textContent='Z Vorticity';
 const u=make('text',{x:c.unitX,y:c.unitY,'font-size':44,'text-anchor':'middle'},barText);
 
 
 u.appendChild(document.createTextNode('(s'));
 const us=make('tspan',{'font-size':26,dy:-17},u);
 us.textContent='−1';
 const uc=make('tspan',{dy:17},u);
 uc.textContent=')';
});
</script>
</body></html>
